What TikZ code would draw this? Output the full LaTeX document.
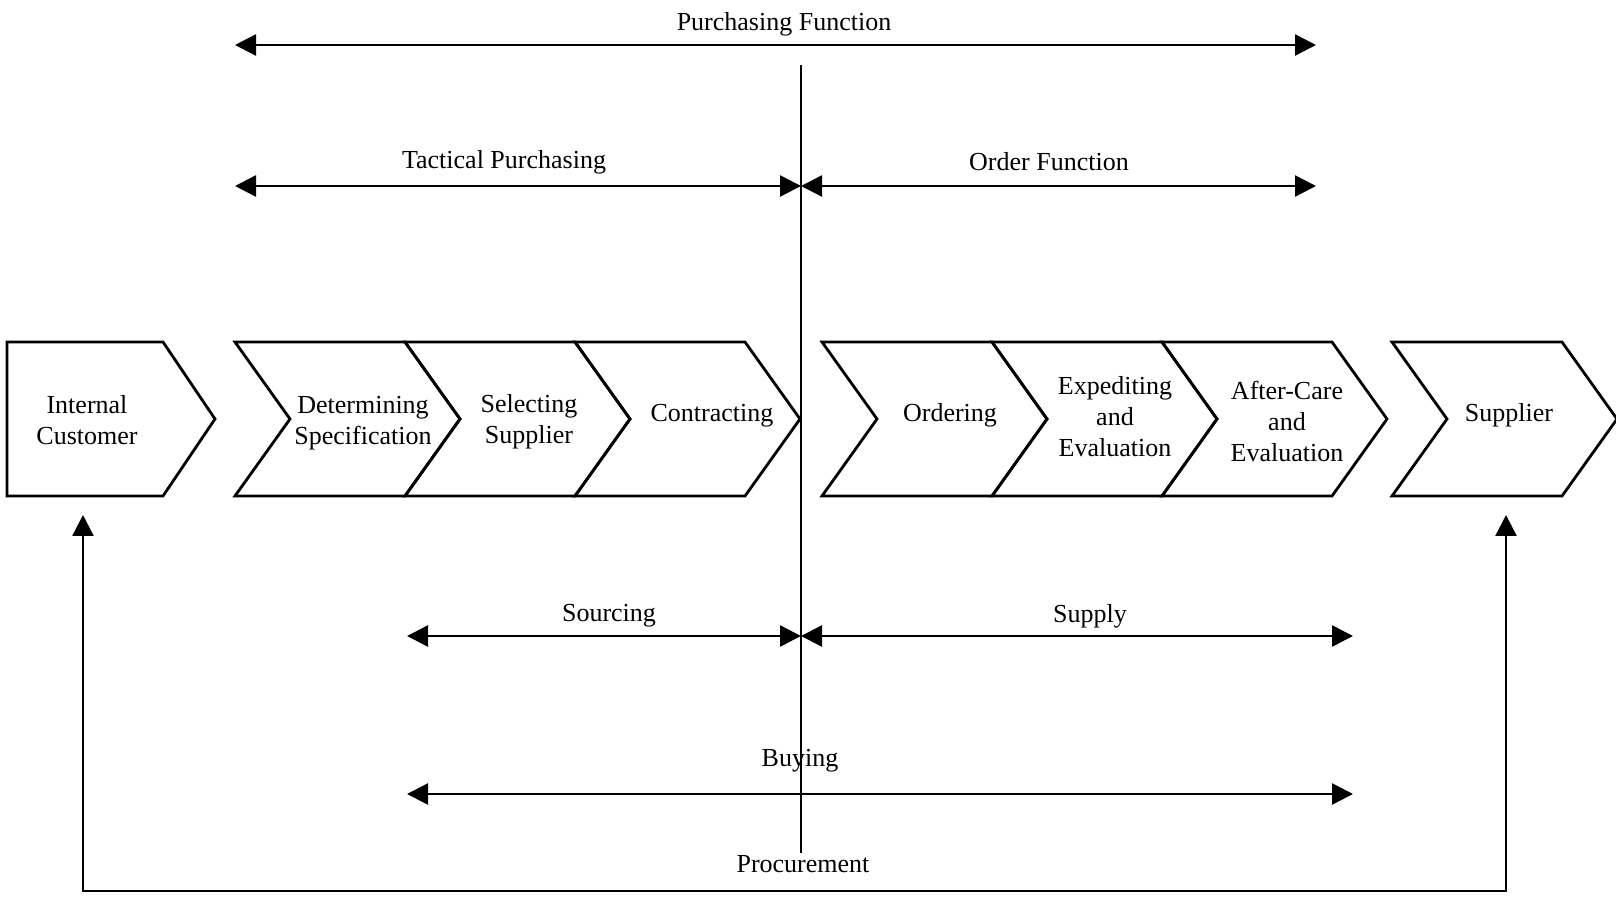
\documentclass[tikz,border=0pt]{standalone}
\usepackage{fontspec}
\setmainfont{Liberation Serif}
\usetikzlibrary{arrows.meta}
\begin{document}
\begin{tikzpicture}[x=0.5pt,y=-0.5pt,
  boxline/.style={line width=1.4pt, line join=miter},
  tip/.tip={Triangle[length=10.5pt,width=10.5pt]},
  span/.style={line width=1.2pt, tip-tip},
  lbl/.style={font=\fontsize{13}{15.5}\selectfont, align=center, inner sep=0pt},
  steplbl/.style={lbl},
  chevron/.pic={\draw[boxline] (0,-77) -- (170,-77) -- (225,0) -- (170,77) -- (0,77) -- (55,0) -- cycle;}
]
\useasboundingbox (0,0) rectangle (1616,897);

% process chain
\draw[boxline] (7,342) -- (163,342) -- (215,419) -- (163,496) -- (7,496) -- cycle;
\pic at (235,419) {chevron};
\pic at (405,419) {chevron};
\pic at (575,419) {chevron};
\pic at (822,419) {chevron};
\pic at (992,419) {chevron};
\pic at (1162,419) {chevron};
\pic at (1392,419) {chevron};

\node[steplbl] (ic)  at (87,420)   {Internal\\Customer};
\node[steplbl] (ds)  at (363,423)  {Determining\\Specification};
\node[steplbl] (ss)  at (529,422)  {Selecting\\Supplier};
\node[steplbl] (ct)  at (712,416)  {Contracting};
\node[steplbl] (od)  at (950,415)  {Ordering};
\node[steplbl] (ee)  at (1115,417) {Expediting\\and\\Evaluation};
\node[steplbl] (ac)  at (1287,421) {After-Care\\and\\Evaluation};
\node[steplbl] (sp)  at (1509,415) {Supplier};

% divider between tactical and order side
\coordinate (divT) at (801,65);
\coordinate (divB) at (801,853);
\draw[line width=0.7pt] (divT) -- (divB);

% spans above the chain
\node[lbl] (pf) at (784,24) {Purchasing Function};
\coordinate (pfL) at (235,45);
\coordinate (pfR) at (1316,45);
\draw[span] (pfL) -- (pfR);

\node[lbl] (tp) at (504,162) {Tactical Purchasing};
\node[lbl] (of) at (1049,162) {Order Function};
\coordinate (tpL) at (235,186);
\coordinate (mid1) at (801,186);
\coordinate (ofR) at (1316,186);
\draw[span] (tpL) -- (mid1);
\draw[span] (mid1) -- (ofR);

% spans below the chain
\node[lbl] (so) at (609,616) {Sourcing};
\node[lbl] (su) at (1090,616) {Supply};
\coordinate (soL) at (407,636);
\coordinate (mid2) at (801,636);
\coordinate (suR) at (1353,636);
\draw[span] (soL) -- (mid2);
\draw[span] (mid2) -- (suR);

\node[lbl] (by) at (800,761) {Buying};
\coordinate (byL) at (407,794);
\coordinate (byR) at (1353,794);
\draw[span] (byL) -- (byR);

% procurement loop
\node[lbl] (pr) at (803,864) {Procurement};
\coordinate (icIn) at (83,515);
\coordinate (spIn) at (1506,515);
\coordinate (fbL) at (83,891);
\coordinate (fbR) at (1506,891);
\draw[span] (icIn) -- (fbL) -- (fbR) -- (spIn);
\end{tikzpicture}
\end{document}
